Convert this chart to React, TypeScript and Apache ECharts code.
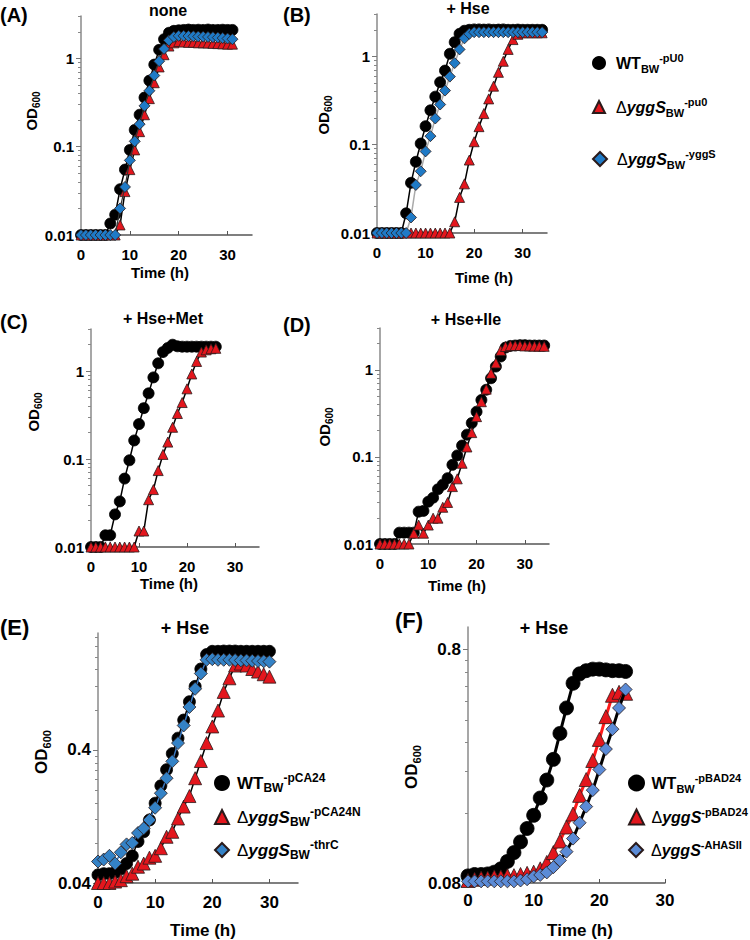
import { useEffect, useRef } from "react";
import * as echarts from "echarts";

const FONT = "'Liberation Sans', Arial, Helvetica, sans-serif";

// ---------- Panel A: none ----------
const timesA = [0,1,2,3,4,5,6,7,8,9,10,11,12,13,14,15,16,17,18,19,20,21,22,23,24,25,26,27,28,29,30,31];
const wtA = [0.01,0.01,0.01,0.01,0.01,0.01,0.0135,0.017,0.033,0.055,0.092,0.155,0.23,0.36,0.56,0.85,1.25,1.65,1.95,2.05,2.08,2.1,2.12,2.1,2.11,2.1,2.12,2.1,2.1,2.11,2.1,2.1];
const dyA = [0.01,0.01,0.01,0.01,0.01,0.01,0.01,0.01,0.013,0.031,0.055,0.092,0.148,0.23,0.35,0.53,0.8,1.1,1.38,1.5,1.55,1.53,1.52,1.52,1.5,1.5,1.49,1.48,1.47,1.46,1.45,1.45];
const compA = [0.01,0.01,0.01,0.01,0.01,0.01,0.01,0.01,0.02,0.035,0.07,0.115,0.18,0.29,0.43,0.64,0.93,1.28,1.6,1.75,1.8,1.8,1.79,1.78,1.77,1.76,1.75,1.74,1.72,1.7,1.68,1.65];

// ---------- Panel B: + Hse ----------
const timesB = [0,1,2,3,4,5,6,7,8,9,10,11,12,13,14,15,16,17,18,19,20,21,22,23,24,25,26,27,28,29,30,31,32,33,34];
const wtB = [0.01,0.01,0.01,0.01,0.01,0.01,0.0167,0.037,0.064,0.103,0.162,0.245,0.35,0.51,0.69,1.07,1.45,1.8,1.95,2.0,2.02,2.02,2.01,2.02,2.0,2.01,2.02,2.0,2.0,2.01,2.0,2.0,2.0,2.0,2.0];
const dyB = [0.01,0.01,0.01,0.01,0.01,0.01,0.01,0.01,0.01,0.01,0.01,0.01,0.01,0.01,0.01,0.01,0.0134,0.0253,0.036,0.067,0.108,0.16,0.225,0.33,0.46,0.66,0.88,1.2,1.55,1.78,1.85,1.85,1.85,1.85,1.85];
const compB = [0.01,0.01,0.01,0.01,0.01,0.01,0.01,0.015,0.035,0.05,0.084,0.125,0.198,0.285,0.41,0.59,0.84,1.2,1.6,1.8,1.88,1.88,1.88,1.88,1.88,1.88,1.88,1.88,1.88,1.88,1.88,1.88,1.88,1.88,1.88];

// ---------- Panel C: + Hse+Met ----------
const timesC = [0,1,2,3,4,5,6,7,8,9,10,11,12,13,14,15,16,17,18,19,20,21,22,23,24,25,26];
const wtC = [0.01,0.01,0.01,0.0136,0.0136,0.0235,0.033,0.06,0.097,0.163,0.25,0.38,0.56,0.85,1.23,1.65,1.84,2.0,1.92,1.9,1.9,1.9,1.9,1.9,1.9,1.9,1.9];
const dyC = [0.01,0.01,0.01,0.01,0.01,0.01,0.01,0.01,0.01,0.01,0.0152,0.0152,0.0345,0.045,0.074,0.113,0.156,0.23,0.33,0.44,0.63,0.93,1.29,1.65,1.75,1.8,1.82];

// ---------- Panel D: + Hse+Ile ----------
const timesD = [0,1,2,3,4,5,6,7,8,9,10,11,12,13,14,15,16,17,18,19,20,21,22,23,24,25,26,27,28,29,30,31,32,33,34];
const wtD = [0.01,0.01,0.01,0.01,0.0135,0.0135,0.0135,0.0135,0.0235,0.024,0.0306,0.034,0.0425,0.048,0.057,0.081,0.104,0.135,0.18,0.245,0.33,0.45,0.59,0.8,1.09,1.42,1.8,1.88,1.9,1.92,1.92,1.9,1.9,1.9,1.9];
const dyD = [0.01,0.01,0.01,0.01,0.01,0.01,0.01,0.0133,0.0165,0.0133,0.0165,0.0198,0.0198,0.0264,0.03,0.0456,0.056,0.0845,0.13,0.19,0.29,0.43,0.6,0.91,1.2,1.67,1.85,1.9,1.9,1.9,1.88,1.88,1.87,1.87,1.86];

// ---------- Panel E: + Hse ----------
const timesE = [0,1,2,3,4,5,6,7,8,9,10,11,12,13,14,15,16,17,18,19,20,21,22,23,24,25,26,27,28,29,30];
const wtE = [0.046,0.047,0.047,0.048,0.051,0.056,0.064,0.082,0.097,0.119,0.159,0.215,0.284,0.375,0.49,0.67,0.92,1.2,1.62,2.08,2.2,2.2,2.21,2.21,2.21,2.2,2.2,2.2,2.2,2.2,2.2];
const dyE = [0.04,0.04,0.04,0.041,0.042,0.045,0.047,0.053,0.056,0.062,0.064,0.073,0.089,0.097,0.122,0.15,0.18,0.245,0.33,0.45,0.6,0.79,1.09,1.38,1.72,1.78,1.72,1.62,1.55,1.48,1.42];
const compE = [0.058,0.06,0.064,0.056,0.068,0.078,0.08,0.095,0.103,0.119,0.147,0.189,0.245,0.328,0.45,0.61,0.84,1.15,1.5,1.9,1.92,1.9,1.9,1.9,1.89,1.88,1.88,1.87,1.86,1.85,1.84];

// ---------- Panel F: + Hse ----------
const timesF = [0,1,2,3,4,5,6,7,8,9,10,11,12,13,14,15,16,17,18,19,20,21,22,23,24];
const wtF = [0.0858,0.087,0.087,0.0875,0.089,0.092,0.099,0.108,0.12,0.137,0.156,0.185,0.221,0.271,0.35,0.45,0.574,0.63,0.65,0.66,0.66,0.655,0.65,0.65,0.645];
const dyF = [0.082,0.083,0.084,0.084,0.085,0.085,0.086,0.086,0.087,0.088,0.089,0.092,0.098,0.108,0.121,0.139,0.158,0.19,0.222,0.268,0.33,0.413,0.51,0.525,0.52];
const compF = [0.0813,0.0813,0.0813,0.0813,0.0813,0.0813,0.0813,0.0813,0.082,0.083,0.0853,0.0866,0.0888,0.0935,0.1,0.109,0.124,0.145,0.17,0.2,0.245,0.3,0.365,0.45,0.54];

// tick labels
const xTicks = [0, 10, 20, 30];
const yLabelsAD = [0.01, 0.1, 1];
const yLabelsE = [0.04, 0.4];
const yLabelsF = [0.08, 0.8];

// series names
const N_WT = "WT_BW-pU0";
const N_DY = "ΔyggS_BW-pu0";
const N_CP = "ΔyggS_BW-yggS";
const N_WTE = "WT_BW-pCA24";
const N_DYE = "ΔyggS_BW-pCA24N";
const N_CPE = "ΔyggS_BW-thrC";
const N_WTF = "WT_BW-pBAD24";
const N_DYF = "ΔyggS-pBAD24";
const N_CPF = "ΔyggS-AHASII";

const RED = "#e3161d";
const BLUE = "#1f7ac6";
const BLUE_E = "#3482c6";
const BLUE_F = "#5b8bd6";

const ICON_TRI = "path://M5,0L10,10L0,10Z";
const ICON_DIA = "path://M5,0L10,5L5,10L0,5Z";

type PanelLayout = {
  left: number; top: number; width: number; height: number;
  xMax: number; yMax: number; base: number; labels: number[];
  tickFont: number; labelMargin: number;
};

const panels: PanelLayout[] = [
  { left: 81, top: 16, width: 171, height: 219, xMax: 35, yMax: 2.48, base: 0.01, labels: yLabelsAD, tickFont: 15, labelMargin: 12 },
  { left: 377, top: 14, width: 170, height: 219, xMax: 35, yMax: 2.48, base: 0.01, labels: yLabelsAD, tickFont: 15, labelMargin: 12 },
  { left: 91, top: 329, width: 168, height: 218, xMax: 35, yMax: 2.48, base: 0.01, labels: yLabelsAD, tickFont: 15, labelMargin: 12 },
  { left: 380, top: 328, width: 169, height: 216, xMax: 35, yMax: 2.48, base: 0.01, labels: yLabelsAD, tickFont: 15, labelMargin: 12 },
  { left: 98, top: 633, width: 200, height: 250, xMax: 35, yMax: 1.878, base: 0.04, labels: yLabelsE, tickFont: 17, labelMargin: 11 },
  { left: 468, top: 627, width: 197, height: 256, xMax: 30, yMax: 1.097, base: 0.08, labels: yLabelsF, tickFont: 17, labelMargin: 9 },
];

const fmtNum = (v: number) => String(parseFloat(v.toPrecision(3)));

function minorTicks(yMax: number): number[] {
  const out: number[] = [];
  for (let d = 0; d < 4; d++) {
    for (let k = 2; k <= 9; k++) {
      const v = d + Math.log10(k);
      if (v < yMax) out.push(v);
    }
  }
  return out;
}

function lineSeries(
  name: string, times: number[], vals: number[], p: number,
  symbol: string, size: number, fill: string, lineColor: string, lineWidth: number, z: number
) {
  const base = panels[p].base;
  return {
    type: "line",
    name,
    xAxisIndex: p,
    yAxisIndex: p * 2,
    data: times.map((t, i) => [t, Math.log10(vals[i] / base)]),
    symbol,
    symbolSize: size,
    showSymbol: true,
    showAllSymbol: true,
    clip: false,
    silent: true,
    z,
    itemStyle: { color: fill, borderColor: symbol === "circle" ? "#000" : "#2a1a1a", borderWidth: 0.8 },
    lineStyle: { color: lineColor, width: lineWidth },
    emphasis: { disabled: true },
  };
}

function richStyles(fs: number, supFs: number) {
  return {
    n: { fontSize: fs, fontWeight: "bold", fontFamily: FONT, color: "#000", lineHeight: 22 },
    d: { fontSize: fs, fontWeight: "normal", fontFamily: FONT, color: "#000", lineHeight: 22 },
    i: { fontSize: fs, fontWeight: "bold", fontStyle: "italic", fontFamily: FONT, color: "#000", lineHeight: 22 },
    sub: { fontSize: supFs, fontWeight: "bold", fontFamily: FONT, color: "#000", lineHeight: supFs + 1, verticalAlign: "bottom" },
    sup: { fontSize: supFs, fontWeight: "bold", fontFamily: FONT, color: "#000", lineHeight: supFs + 1, verticalAlign: "top" },
  };
}

function legendItem(name: string, icon: string, left: number, rowCenter: number, w: number, h: number, text: string, fs: number, supFs: number) {
  return {
    data: [{ name, icon }],
    left, top: rowCenter - 11,
    orient: "vertical",
    itemWidth: w, itemHeight: h, itemGap: 0, padding: 0,
    symbolKeepAspect: true,
    selectedMode: false,
    formatter: text,
    textStyle: { rich: richStyles(fs, supFs) },
  };
}

function txt(text: string, x: number, y: number, fs: number, align = "center") {
  return {
    type: "text", x, y, silent: true,
    style: { text, fontSize: fs, fontWeight: "bold", fontFamily: FONT, fill: "#000", align, verticalAlign: "middle" },
  };
}

function odLabel(x: number, y: number, fs: number) {
  const sub = Math.round(fs * 0.65);
  return {
    type: "text", x, y, rotation: Math.PI / 2, silent: true,
    style: {
      text: "{a|OD}{b|600}", align: "center", verticalAlign: "middle",
      rich: {
        a: { fontSize: fs, fontWeight: "bold", fontFamily: FONT, fill: "#000", lineHeight: fs + 6 },
        b: { fontSize: sub, fontWeight: "bold", fontFamily: FONT, fill: "#000", lineHeight: sub + 1, verticalAlign: "bottom" },
      },
    },
  };
}

export default function App() {
  const ref = useRef<HTMLDivElement>(null);
  useEffect(() => {
    if (!ref.current) return;
    const chart = echarts.init(ref.current, undefined, { renderer: "svg" });

    const grid = panels.map((p) => ({ left: p.left, top: p.top, width: p.width, height: p.height, containLabel: false }));
    const xAxis = panels.map((p, i) => ({
      gridIndex: i, type: "value", min: 0, max: p.xMax,
      axisLine: { show: true, onZero: false, lineStyle: { color: "#555", width: 1.5 } },
      axisTick: { show: true, inside: true, length: 4, customValues: xTicks, lineStyle: { color: "#555" } },
      axisLabel: { customValues: xTicks, fontSize: p.tickFont, fontWeight: "bold", fontFamily: FONT, color: "#000", margin: p.labelMargin },
      splitLine: { show: false },
    }));
    const yAxis: any[] = [];
    panels.forEach((p, i) => {
      const majors = p.labels.map((v) => Math.log10(v / p.base));
      yAxis.push({
        gridIndex: i, type: "value", min: 0, max: p.yMax, position: "left",
        axisLine: { show: true, onZero: false, lineStyle: { color: "#8a8a8a", width: 1.5 } },
        axisTick: { show: true, length: 5, customValues: majors, lineStyle: { color: "#777" } },
        axisLabel: {
          customValues: majors, fontSize: p.tickFont, fontWeight: "bold", fontFamily: FONT, color: "#000", margin: 7,
          formatter: (v: number) => fmtNum(p.base * Math.pow(10, v)),
        },
        splitLine: { show: false },
      });
      yAxis.push({
        gridIndex: i, type: "value", min: 0, max: p.yMax, position: "left",
        axisLine: { show: false },
        axisTick: { show: true, length: 3, customValues: minorTicks(p.yMax), lineStyle: { color: "#888" } },
        axisLabel: { show: false },
        splitLine: { show: false },
      });
    });

    const series = [
      lineSeries(N_WT, timesA, wtA, 0, "circle", 11, "#000", "#000", 1.5, 2),
      lineSeries(N_DY, timesA, dyA, 0, "triangle", 10, RED, "#000", 1.5, 3),
      lineSeries(N_CP, timesA, compA, 0, "diamond", 11, BLUE, "#333", 1.2, 4),
      lineSeries(N_WT, timesB, wtB, 1, "circle", 11, "#000", "#000", 1.5, 2),
      lineSeries(N_DY, timesB, dyB, 1, "triangle", 10, RED, "#000", 1.5, 3),
      lineSeries(N_CP, timesB, compB, 1, "diamond", 11, BLUE, "#aaa", 1.5, 4),
      lineSeries(N_WT, timesC, wtC, 2, "circle", 11, "#000", "#000", 1.5, 2),
      lineSeries(N_DY, timesC, dyC, 2, "triangle", 10, RED, "#000", 1.5, 3),
      lineSeries(N_WT, timesD, wtD, 3, "circle", 11, "#000", "#000", 1.5, 2),
      lineSeries(N_DY, timesD, dyD, 3, "triangle", 10, RED, "#000", 1.5, 3),
      lineSeries(N_WTE, timesE, wtE, 4, "circle", 12, "#000", "#000", 1.5, 2),
      lineSeries(N_DYE, timesE, dyE, 4, "triangle", 13, RED, "#000", 1.5, 3),
      lineSeries(N_CPE, timesE, compE, 4, "diamond", 13, BLUE_E, "#3a78c0", 1.5, 4),
      lineSeries(N_WTF, timesF, wtF, 5, "circle", 14, "#000", "#000", 3, 2),
      lineSeries(N_DYF, timesF, dyF, 5, "triangle", 14, RED, "#ff1a1a", 3, 3),
      lineSeries(N_CPF, timesF, compF, 5, "diamond", 13, BLUE_F, "#000", 3, 4),
    ];

    const legend = [
      legendItem(N_WT, "circle", 592, 63, 24, 12, "{n|WT}{sub|BW}{sup|-pU0}", 16, 11),
      legendItem(N_DY, ICON_TRI, 592, 107, 24, 12, "{d|Δ}{i|yggS}{sub|BW}{sup|-pu0}", 16, 11),
      legendItem(N_CP, ICON_DIA, 592, 159, 24, 14, "{d|Δ}{i|yggS}{sub|BW}{sup|-yggS}", 16, 11),
      legendItem(N_WTE, "circle", 214, 783, 20, 14, "{n|WT}{sub|BW}{sup|-pCA24}", 17, 12),
      legendItem(N_DYE, ICON_TRI, 214, 817, 20, 14, "{d|Δ}{i|yggS}{sub|BW}{sup|-pCA24N}", 17, 12),
      legendItem(N_CPE, ICON_DIA, 214, 850, 20, 14, "{d|Δ}{i|yggS}{sub|BW}{sup|-thrC}", 17, 12),
      legendItem(N_WTF, "circle", 628, 783, 20, 15, "{n|WT}{sub|BW}{sup|-pBAD24}", 16, 11),
      legendItem(N_DYF, ICON_TRI, 628, 817, 20, 15, "{d|Δ}{i|yggS}{sup|-pBAD24}", 16, 11),
      legendItem(N_CPF, ICON_DIA, 628, 850, 20, 14, "{d|Δ}{i|yggS}{sup|-AHASII}", 16, 11),
    ];

    const graphic = [
      txt("(A)", 0, 15, 20, "left"),
      txt("(B)", 283, 15, 20, "left"),
      txt("(C)", 0, 322, 20, "left"),
      txt("(D)", 283, 325, 20, "left"),
      txt("(E)", 0, 627, 22, "left"),
      txt("(F)", 395, 620, 22, "left"),
      txt("none", 168, 10, 16),
      txt("+ Hse", 468, 8, 16),
      txt("+ Hse+Met", 163, 318, 16),
      txt("+ Hse+Ile", 466, 319, 16),
      txt("+ Hse", 185, 628, 18),
      txt("+ Hse", 544, 628, 18),
      txt("Time (h)", 160, 272, 15),
      txt("Time (h)", 484, 277, 15),
      txt("Time (h)", 169, 583, 15),
      txt("Time (h)", 457, 585, 15),
      txt("Time (h)", 203, 930, 17),
      txt("Time (h)", 580, 930, 17),
      odLabel(31, 111, 15),
      odLabel(323, 115, 15),
      odLabel(33, 412, 15),
      odLabel(324, 427, 15),
      odLabel(41, 752, 17),
      odLabel(411, 767, 17),
    ];

    chart.setOption({
      animation: false,
      backgroundColor: "#fff",
      textStyle: { fontFamily: FONT },
      grid, xAxis, yAxis, series, legend, graphic,
    });
    return () => chart.dispose();
  }, []);

  return <div ref={ref} style={{ position: "absolute", left: 0, top: 0, width: 750, height: 940 }} />;
}
